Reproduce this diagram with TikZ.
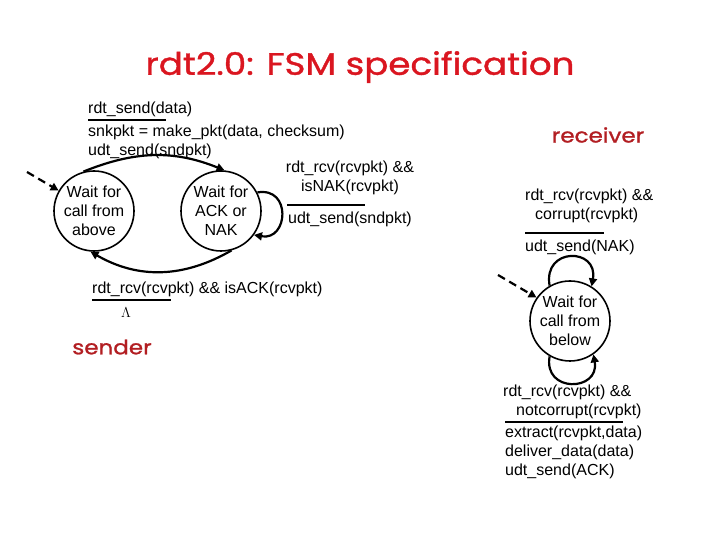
\documentclass[tikz,border=0pt]{standalone}
\usepackage{fontspec}
\setmainfont{Liberation Sans}
\newfontfamily\headfont[FakeStretch=1.15, FakeBold=1.2]{Poppins}
\usetikzlibrary{arrows.meta, positioning, calc}
\definecolor{titlered}{RGB}{218, 22, 32}
\definecolor{rolered}{RGB}{178, 30, 34}

\begin{document}
\begin{tikzpicture}[x=1pt, y=1pt,
            state/.style={draw, circle, line width=1.6pt, minimum size=80pt, inner sep=-1pt, align=center, font=\fontsize{16}{19}\selectfont},
            trans/.style={inner sep=0pt, align=left, font=\fontsize{16}{19}\selectfont},
            role/.style={text=rolered, font=\headfont\fontsize{20}{26}\selectfont},
            edge/.style={-{Triangle[length=8pt, width=8pt]}, line width=2.2pt},
            init/.style={edge, dash pattern=on 8pt off 5pt},
            divider/.style={line width=2.6pt}
        ]
            \useasboundingbox (0,0) rectangle (720,540);
            \node[text=titlered, font=\headfont\fontsize{31}{36}\selectfont] (title) at (360,473) {rdt2.0: FSM specification};

            % sender
            \node[state] (above) at (94,329) {Wait for\\call from\\above};
            \node[state] (acknak) at (221,329) {Wait for\\ACK or\\NAK};
            \coordinate (sstart) at (27,368);
            \draw[init] (sstart) -- (above.150);
            \draw[edge] (above.105) to[out=22, in=158] (acknak.85);
            \draw[edge] (acknak.-75) to[out=-150, in=-30] (above.-95);
            \draw[edge] (acknak.27) to[out=10, in=-10, looseness=2.1] (acknak.-36);

            \node[trans, anchor=north west] (sendev) at (88,438) {rdt\_send(data)};
            \node[trans, anchor=north west] (sendact) at (88,415) {snkpkt = make\_pkt(data, checksum)\\udt\_send(sndpkt)};
            \draw[divider] (88,420) -- (166,420);

            \node[trans, anchor=north, align=center] (nakev) at (350,379) {rdt\_rcv(rcvpkt) \&\&\\isNAK(rcvpkt)};
            \draw[divider] (287,335) -- (365,335);
            \node[trans, anchor=north west] (nakact) at (288,328) {udt\_send(sndpkt)};

            \node[trans, anchor=north west] (ackev) at (92,258) {rdt\_rcv(rcvpkt) \&\& isACK(rcvpkt)};
            \draw[divider] (92,240) -- (171,240);
            \node[font=\fontsize{15}{16}\selectfont] (lambda) at (126,227) {$\Lambda$};

            \node[role] (sender) at (112,193) {sender};

            % receiver
            \node[role] (receiver) at (598,405) {receiver};
            \node[state] (below) at (570,219) {Wait for\\call from\\below};
            \coordinate (rstart) at (498,265);
            \draw[init] (rstart) -- (below.145);
            \draw[edge] (below.120) to[out=100, in=80, looseness=2.4] (below.58);
            \draw[edge] (below.-120) to[out=-100, in=-80, looseness=2.2] (below.-55);

            \node[trans, anchor=north west] (corev) at (525,351) {rdt\_rcv(rcvpkt) \&\&\\\hspace{10pt}corrupt(rcvpkt)};
            \draw[divider] (525,307) -- (604,307);
            \node[trans, anchor=north west] (coract) at (525,300) {udt\_send(NAK)};

            \node[trans, anchor=north west] (okev) at (503,155) {rdt\_rcv(rcvpkt) \&\&\\\hspace{13pt}notcorrupt(rcvpkt)};
            \draw[divider] (505,118) -- (623,118);
            \node[trans, anchor=north west] (okact) at (505,114) {extract(rcvpkt,data)\\deliver\_data(data)\\udt\_send(ACK)};
        \end{tikzpicture}
\end{document}
